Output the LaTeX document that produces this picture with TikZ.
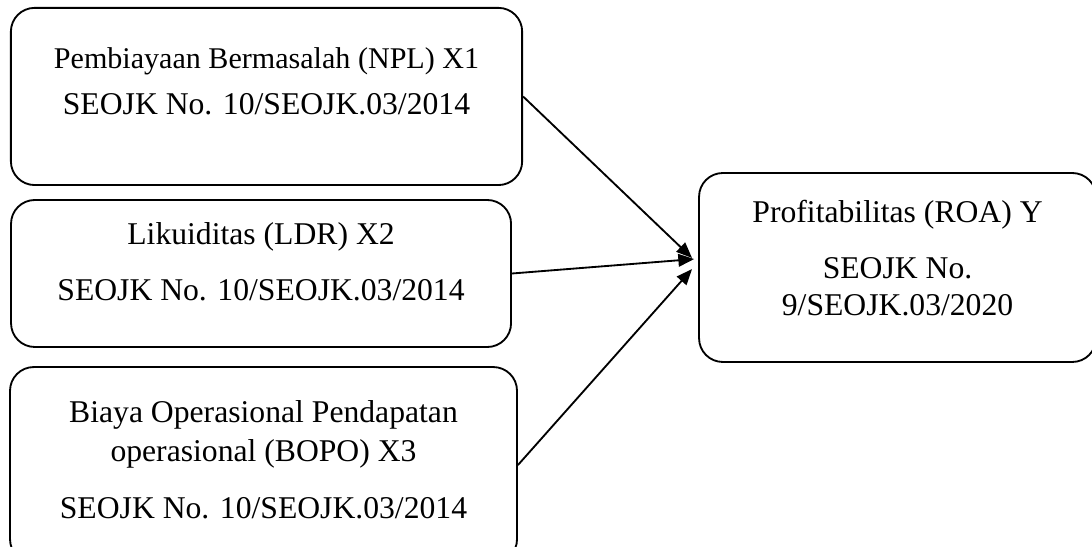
\documentclass[tikz,border=0pt]{standalone}
\usepackage{fontspec}
\setmainfont{Liberation Serif}
\usetikzlibrary{arrows.meta}
\tikzset{
  box/.style={draw, line width=0.7pt, rounded corners=9pt, inner sep=0pt},
  txt/.style={align=center, font=\fontsize{12}{14}\selectfont},
  link/.style={line width=0.7pt, -{Triangle[length=6pt,width=4.8pt]}}
}
\begin{document}
\begin{tikzpicture}
  \useasboundingbox (0,0) rectangle (14.545,-7.273);
  % Independent variables
  \node[box, minimum width=6.81cm, minimum height=2.36cm] (npl) at (3.55,-1.285) {};
  \node[box, minimum width=6.66cm, minimum height=1.958cm] (ldr) at (3.477,-3.643) {};
  \node[box, minimum width=6.753cm, minimum height=2.61cm] (bopo) at (3.51,-6.194) {};
  % Dependent variable
  \node[box, minimum width=5.288cm, minimum height=2.517cm] (roa) at (11.955,-3.563) {};
  % Box texts
  \node[txt] (npltxt) at ([yshift=5.9pt]npl.center)
    {{\fontsize{11.4}{13}\selectfont Pembiayaan Bermasalah (NPL) X1}\\[3.4pt] SEOJK No. 10/SEOJK.03/2014};
  \node[txt] (ldrtxt) at ([yshift=4.3pt]ldr.center)
    {Likuiditas (LDR) X2\\[7.2pt] SEOJK No. 10/SEOJK.03/2014};
  \node[txt] (bopotxt) at ([yshift=2.1pt]bopo.center)
    {Biaya Operasional Pendapatan\\[0.8pt] operasional (BOPO) X3\\[7.6pt] SEOJK No. 10/SEOJK.03/2014};
  \node[txt] (roatxt) at ([yshift=3.6pt]roa.center)
    {Profitabilitas (ROA) Y\\[7.4pt] SEOJK No.\\ 9/SEOJK.03/2020};
  % Arrows
  \draw[link] (npl.east) -- ([xshift=-2.3pt,yshift=3.6pt]roa.west);
  \draw[link] (ldr.east) -- ([xshift=-1.5pt,yshift=3.2pt]roa.west);
  \draw[link] (bopo.east) -- ([xshift=-2.3pt,yshift=-0.6pt]roa.west);
\end{tikzpicture}
\end{document}
